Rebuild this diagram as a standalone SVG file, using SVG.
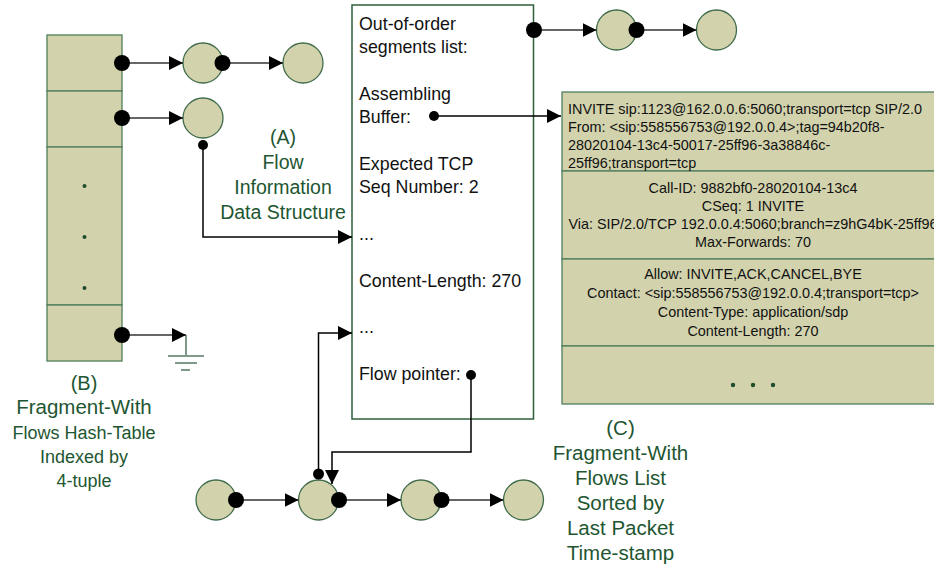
<svg xmlns="http://www.w3.org/2000/svg" width="934" height="568" viewBox="0 0 934 568">
  <defs>
    <marker id="arrow" markerUnits="userSpaceOnUse" markerWidth="15" markerHeight="15" refX="14" refY="7" orient="auto">
      <path d="M0,0 L14,7 L0,14 z" fill="#000"/>
    </marker>
    <style>
      .node { fill: #d2d3ad; stroke: #3f6b4a; stroke-width: 1.3; }
      .cell { fill: #d2d3ad; stroke: #4f7d5a; stroke-width: 1.3; }
      .panel { fill: #ffffff; stroke: #2f5f3a; stroke-width: 1.5; }
      .link { fill: none; stroke: #333; stroke-width: 1.5; }
      .wire { fill: none; stroke: #000; stroke-width: 1.5; }
      .gnd { fill: none; stroke: #7f9a88; stroke-width: 2; }
      .dot { fill: #000; }
      .tick { fill: #1e4d2b; }
      .body { font-family: "Liberation Sans", Arial, sans-serif; font-size: 17.8px; fill: #111; }
      .sip { font-family: "Liberation Sans", Arial, sans-serif; font-size: 14.4px; fill: #111; }
      .label { font-family: "Liberation Sans", Arial, sans-serif; fill: #1e5631; text-anchor: middle; }
    </style>
  </defs>

  <!-- (B) hash table -->
  <g id="hash-table">
    <rect class="cell" x="47" y="35" width="75" height="56"/>
    <rect class="cell" x="47" y="91" width="75" height="56"/>
    <rect class="cell" x="47" y="147" width="75" height="158"/>
    <rect class="cell" x="47" y="305" width="75" height="56"/>
    <circle class="tick" cx="84.5" cy="186" r="2"/>
    <circle class="tick" cx="84.5" cy="237" r="2"/>
    <circle class="tick" cx="84.5" cy="288" r="2"/>
  </g>

  <!-- bucket chains -->
  <g id="chain-a1"><circle class="node" cx="203" cy="63" r="20"/></g>
  <g id="chain-a2"><circle class="node" cx="303" cy="63" r="20"/></g>
  <g id="chain-b1"><circle class="node" cx="203" cy="118" r="20"/></g>

  <!-- ground terminator -->
  <g id="ground">
    <line class="gnd" x1="186" y1="335" x2="186" y2="356"/>
    <line class="gnd" x1="168" y1="356" x2="204" y2="356"/>
    <line class="gnd" x1="175" y1="363" x2="197" y2="363"/>
    <line class="gnd" x1="181" y1="370" x2="190" y2="370"/>
  </g>

  <!-- (A) flow information record -->
  <g id="flow-info">
    <rect class="panel" x="352" y="5" width="181.5" height="414"/>
    <text class="body" x="359" y="30">Out-of-order</text>
    <text class="body" x="359" y="53">segments list:</text>
    <text class="body" x="359" y="100">Assembling</text>
    <text class="body" x="359" y="123">Buffer:</text>
    <text class="body" x="359" y="170">Expected TCP</text>
    <text class="body" x="359" y="193">Seq Number: 2</text>
    <text class="body" x="359" y="240">...</text>
    <text class="body" x="359" y="287">Content-Length: 270</text>
    <text class="body" x="359" y="333">...</text>
    <text class="body" x="359" y="380">Flow pointer:</text>
  </g>

  <!-- out-of-order segments -->
  <g id="segment-1"><circle class="node" cx="616.5" cy="30" r="20"/></g>
  <g id="segment-2"><circle class="node" cx="716.5" cy="30" r="20"/></g>

  <!-- assembling buffer contents -->
  <g id="buffer">
    <rect class="cell" x="562" y="92" width="384" height="79"/>
    <rect class="cell" x="562" y="171" width="384" height="88"/>
    <rect class="cell" x="562" y="259" width="384" height="87"/>
    <rect class="cell" x="562" y="346" width="384" height="58"/>
    <text class="sip" x="568" y="114">INVITE sip:1123@162.0.0.6:5060;transport=tcp SIP/2.0</text>
    <text class="sip" x="568" y="132">From: &lt;sip:558556753@192.0.0.4&gt;;tag=94b20f8-</text>
    <text class="sip" x="568" y="150">28020104-13c4-50017-25ff96-3a38846c-</text>
    <text class="sip" x="568" y="168">25ff96;transport=tcp</text>
    <g text-anchor="middle">
      <text class="sip" x="753" y="193">Call-ID: 9882bf0-28020104-13c4</text>
      <text class="sip" x="753" y="211">CSeq: 1 INVITE</text>
      <text class="sip" x="753" y="229">Via: SIP/2.0/TCP 192.0.0.4:5060;branch=z9hG4bK-25ff96</text>
      <text class="sip" x="753" y="247">Max-Forwards: 70</text>
      <text class="sip" x="753" y="279">Allow: INVITE,ACK,CANCEL,BYE</text>
      <text class="sip" x="753" y="298">Contact: &lt;sip:558556753@192.0.0.4;transport=tcp&gt;</text>
      <text class="sip" x="753" y="317">Content-Type: application/sdp</text>
      <text class="sip" x="753" y="336">Content-Length: 270</text>
    </g>
    <circle class="tick" cx="733" cy="385" r="2.2"/>
    <circle class="tick" cx="753" cy="385" r="2.2"/>
    <circle class="tick" cx="773" cy="385" r="2.2"/>
  </g>

  <!-- (C) time-sorted flow list -->
  <g id="flow-1"><circle class="node" cx="216" cy="500" r="20"/></g>
  <g id="flow-2"><circle class="node" cx="318.5" cy="500" r="20"/></g>
  <g id="flow-3"><circle class="node" cx="421" cy="500" r="20"/></g>
  <g id="flow-4"><circle class="node" cx="523.5" cy="500" r="20"/></g>

  <!-- captions -->
  <g id="caption-a" class="label" font-size="19.5">
    <text x="283" y="144">(A)</text>
    <text x="283" y="169">Flow</text>
    <text x="283" y="194">Information</text>
    <text x="283" y="219">Data Structure</text>
  </g>
  <g id="caption-b" class="label">
    <text x="84" y="390" font-size="20">(B)</text>
    <text x="84" y="414" font-size="20.5">Fragment-With</text>
    <text x="84" y="439" font-size="18">Flows Hash-Table</text>
    <text x="84" y="463" font-size="18">Indexed by</text>
    <text x="84" y="487" font-size="18">4-tuple</text>
  </g>
  <g id="caption-c" class="label" font-size="20.5">
    <text x="620.5" y="435">(C)</text>
    <text x="620.5" y="460">Fragment-With</text>
    <text x="620.5" y="485">Flows List</text>
    <text x="620.5" y="510">Sorted by</text>
    <text x="620.5" y="535">Last Packet</text>
    <text x="620.5" y="560">Time-stamp</text>
  </g>

  <!-- connectors -->
  <g id="connectors">
    <line class="link" x1="122" y1="63" x2="183" y2="63" marker-end="url(#arrow)"/>
    <line class="link" x1="223" y1="63" x2="283" y2="63" marker-end="url(#arrow)"/>
    <line class="link" x1="122" y1="118" x2="183" y2="118" marker-end="url(#arrow)"/>
    <line class="link" x1="122" y1="335" x2="186" y2="335" marker-end="url(#arrow)"/>
    <polyline class="wire" points="203,145 203,237 352,237" marker-end="url(#arrow)"/>
    <line class="link" x1="534" y1="30" x2="596.5" y2="30" marker-end="url(#arrow)"/>
    <line class="link" x1="636.5" y1="30" x2="696.5" y2="30" marker-end="url(#arrow)"/>
    <line class="wire" x1="434" y1="116" x2="561" y2="116" marker-end="url(#arrow)"/>
    <polyline class="wire" points="318.5,474 318.5,333 352,333" marker-end="url(#arrow)"/>
    <polyline class="wire" points="471,375 471,452 332,452 332,484" marker-end="url(#arrow)"/>
    <line class="link" x1="236" y1="500" x2="298.5" y2="500" marker-end="url(#arrow)"/>
    <line class="link" x1="338.5" y1="500" x2="401" y2="500" marker-end="url(#arrow)"/>
    <line class="link" x1="441" y1="500" x2="503.5" y2="500" marker-end="url(#arrow)"/>

    <!-- pointer origins -->
    <circle class="dot" cx="122" cy="63" r="8"/>
    <circle class="dot" cx="222.5" cy="63" r="8"/>
    <circle class="dot" cx="122" cy="118" r="8"/>
    <circle class="dot" cx="203" cy="145" r="5"/>
    <circle class="dot" cx="122" cy="335" r="8"/>
    <circle class="dot" cx="534" cy="30" r="8"/>
    <circle class="dot" cx="636.5" cy="30" r="8"/>
    <circle class="dot" cx="434" cy="116" r="5"/>
    <circle class="dot" cx="471" cy="375" r="5"/>
    <circle class="dot" cx="318.5" cy="474" r="5.5"/>
    <circle class="dot" cx="236" cy="500" r="8"/>
    <circle class="dot" cx="339" cy="500" r="8"/>
    <circle class="dot" cx="441.5" cy="500" r="8"/>
  </g>
</svg>
